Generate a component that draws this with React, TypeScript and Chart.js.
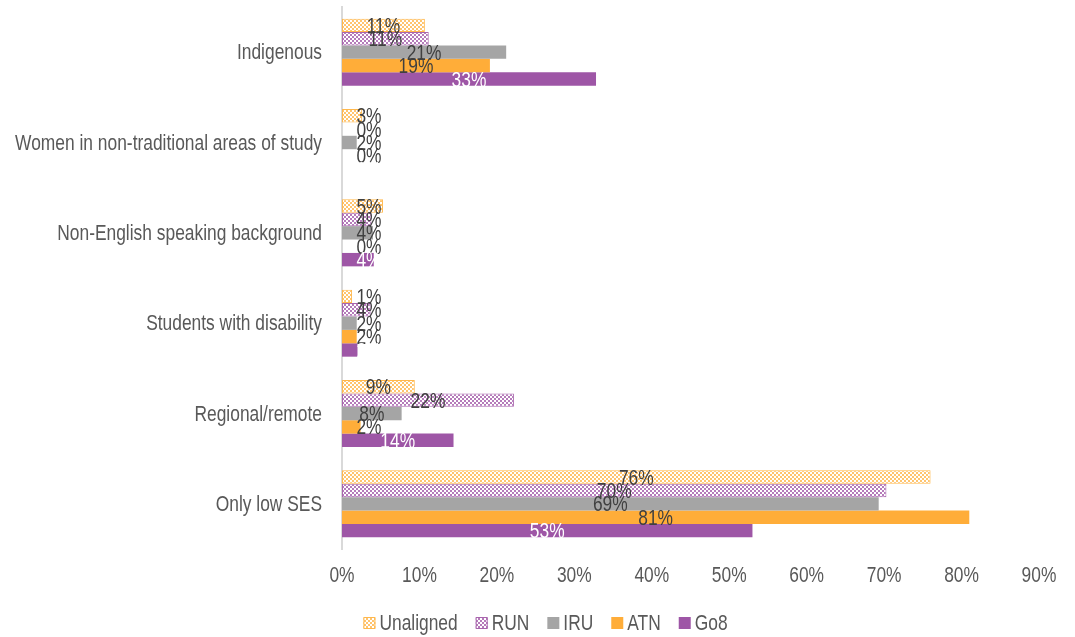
import React, { useEffect, useRef } from 'react';
import { Chart, registerables } from 'chart.js';

Chart.register(...registerables);

const categories = [
  'Indigenous',
  'Women in non-traditional areas of study',
  'Non-English speaking background',
  'Students with disability',
  'Regional/remote',
  'Only low SES',
];
const seriesNames = ['Unaligned', 'RUN', 'IRU', 'ATN', 'Go8'];
const unalignedValues = [10.7, 2.6, 5.3, 1.3, 9.4, 76.0];
const runValues = [11.2, 0, 3.8, 3.7, 22.2, 70.3];
const iruValues = [21.2, 1.9, 4.0, 1.9, 7.7, 69.3];
const atnValues = [19.1, 0, 0, 1.9, 2.4, 81.0];
const go8Values = [32.8, 0, 4.1, 2.0, 14.4, 53.0];
const xTickValues = [0, 10, 20, 30, 40, 50, 60, 70, 80, 90];

const FONT = "'Liberation Sans', Arial, sans-serif";
const FONT_SIZE = 22;
const SX = 0.79; // horizontal condensing to mimic a narrow face
const TEXT = '#595959';

function makePattern(ctx: CanvasRenderingContext2D, fg: string, bg: string) {
  const c = document.createElement('canvas');
  c.width = 4;
  c.height = 4;
  const g = c.getContext('2d')!;
  g.fillStyle = bg;
  g.fillRect(0, 0, 4, 4);
  g.fillStyle = fg;
  g.fillRect(0, 0, 2, 2);
  g.fillRect(2, 2, 2, 2);
  return ctx.createPattern(c, 'repeat')!;
}

function drawText(c: CanvasRenderingContext2D, text: string, x: number, y: number, align: CanvasTextAlign) {
  c.save();
  c.translate(x, y);
  c.scale(SX, 1);
  c.textAlign = align;
  c.fillText(text, 0, 0);
  c.restore();
}

export default function App() {
  const ref = useRef<HTMLCanvasElement | null>(null);

  useEffect(() => {
    const canvas = ref.current!;
    const ctx = canvas.getContext('2d')!;
    const unalignedPat = makePattern(ctx, '#FFC46E', '#FFFFFF');
    const runPat = makePattern(ctx, '#B57BBA', '#FFFFFF');

    const fills = [unalignedPat, runPat, '#A5A5A5', '#FFAD39', '#9E56A6'];
    const borders = ['#FFB84D', '#A965AE', '#A5A5A5', '#FFAD39', '#9E56A6'];
    const labelColors = ['#404040', '#404040', '#404040', '#404040', '#FFFFFF'];
    const allValues = [unalignedValues, runValues, iruValues, atnValues, go8Values];

    const axisText = {
      id: 'axisText',
      afterDraw(chart: any) {
        const c = chart.ctx;
        c.save();
        c.font = `${FONT_SIZE}px ${FONT}`;
        c.textBaseline = 'middle';
        c.fillStyle = TEXT;
        const ys = chart.scales.y;
        const xs = chart.scales.x;
        (chart.data.labels as string[]).forEach((lab, i) => {
          drawText(c, lab, ys.right - 20, ys.getPixelForTick(i) + 1, 'right');
        });
        xs.ticks.forEach((t: any) => {
          drawText(c, `${t.value}%`, xs.getPixelForValue(t.value), 576, 'center');
        });
        c.restore();
      },
    };

    const dataLabels = {
      id: 'dataLabels',
      afterDatasetsDraw(chart: any) {
        const c = chart.ctx;
        c.save();
        c.font = `${FONT_SIZE}px ${FONT}`;
        c.textBaseline = 'middle';
        chart.data.datasets.forEach((ds: any, di: number) => {
          const meta = chart.getDatasetMeta(di);
          meta.data.forEach((bar: any, i: number) => {
            const v = ds.data[i];
            if (v === null || v === undefined) return;
            const start = Math.min(bar.base, bar.x);
            const center = (bar.base + bar.x) / 2;
            const cx = Math.max(center, start + 27);
            c.fillStyle = labelColors[di];
            drawText(c, `${Math.round(v)}%`, cx, bar.y + 1.5, 'center');
          });
        });
        c.restore();
      },
    };

    const customLegend = {
      id: 'customLegend',
      afterDraw(chart: any) {
        const c = chart.ctx;
        c.save();
        c.font = `${FONT_SIZE}px ${FONT}`;
        c.textBaseline = 'middle';
        const box = 12;
        const gap = 4;
        const itemGap = 18;
        const widths = seriesNames.map((n) => box + gap + c.measureText(n).width * SX);
        const total = widths.reduce((a, b) => a + b, 0) + itemGap * (seriesNames.length - 1);
        let x = chart.width / 2 + 8 - total / 2;
        const y = 623;
        seriesNames.forEach((n, i) => {
          c.fillStyle = fills[i];
          c.fillRect(x, y - box / 2, box, box);
          if (i < 2) {
            c.strokeStyle = borders[i];
            c.lineWidth = 1;
            c.strokeRect(x + 0.5, y - box / 2 + 0.5, box - 1, box - 1);
          }
          c.fillStyle = TEXT;
          drawText(c, n, x + box + gap, y + 1, 'left');
          x += widths[i] + itemGap;
        });
        c.restore();
      },
    };

    const chart = new Chart(canvas, {
      type: 'bar',
      data: {
        labels: categories,
        datasets: seriesNames.map((name, i) => ({
          label: name,
          data: allValues[i],
          backgroundColor: fills[i],
          borderColor: borders[i],
          borderWidth: (c: any) => (i < 2 && c.raw > 0 ? 1 : 0),
          borderSkipped: false,
          categoryPercentage: 0.742,
          barPercentage: 1,
        })),
      },
      options: {
        indexAxis: 'y',
        animation: false,
        responsive: false,
        maintainAspectRatio: false,
        layout: { padding: { top: 7, right: 36, bottom: 50, left: 0 } },
        plugins: {
          legend: { display: false },
          tooltip: { enabled: false },
        },
        scales: {
          x: {
            min: 0,
            max: 90,
            afterBuildTicks(scale: any) {
              scale.ticks = xTickValues.map((v) => ({ value: v }));
            },
            afterFit(scale: any) {
              scale.height = 38;
              scale.paddingLeft = 0;
              scale.paddingRight = 0;
            },
            grid: { display: false, drawTicks: false },
            border: { display: false },
            ticks: { display: false },
          },
          y: {
            afterFit(scale: any) {
              scale.width = 342;
              scale.paddingTop = 0;
              scale.paddingBottom = 0;
            },
            grid: { display: false, drawTicks: false },
            border: { display: true, color: '#D9D9D9', width: 2 },
            ticks: { display: false },
          },
        },
      },
      plugins: [dataLabels, axisText, customLegend],
    } as any);

    return () => chart.destroy();
  }, []);

  return (
    <div style={{ position: 'fixed', left: 0, top: 0, width: 1075, height: 637, background: '#fff' }}>
      <canvas ref={ref} width={1075} height={637} style={{ width: 1075, height: 637 }} />
    </div>
  );
}
